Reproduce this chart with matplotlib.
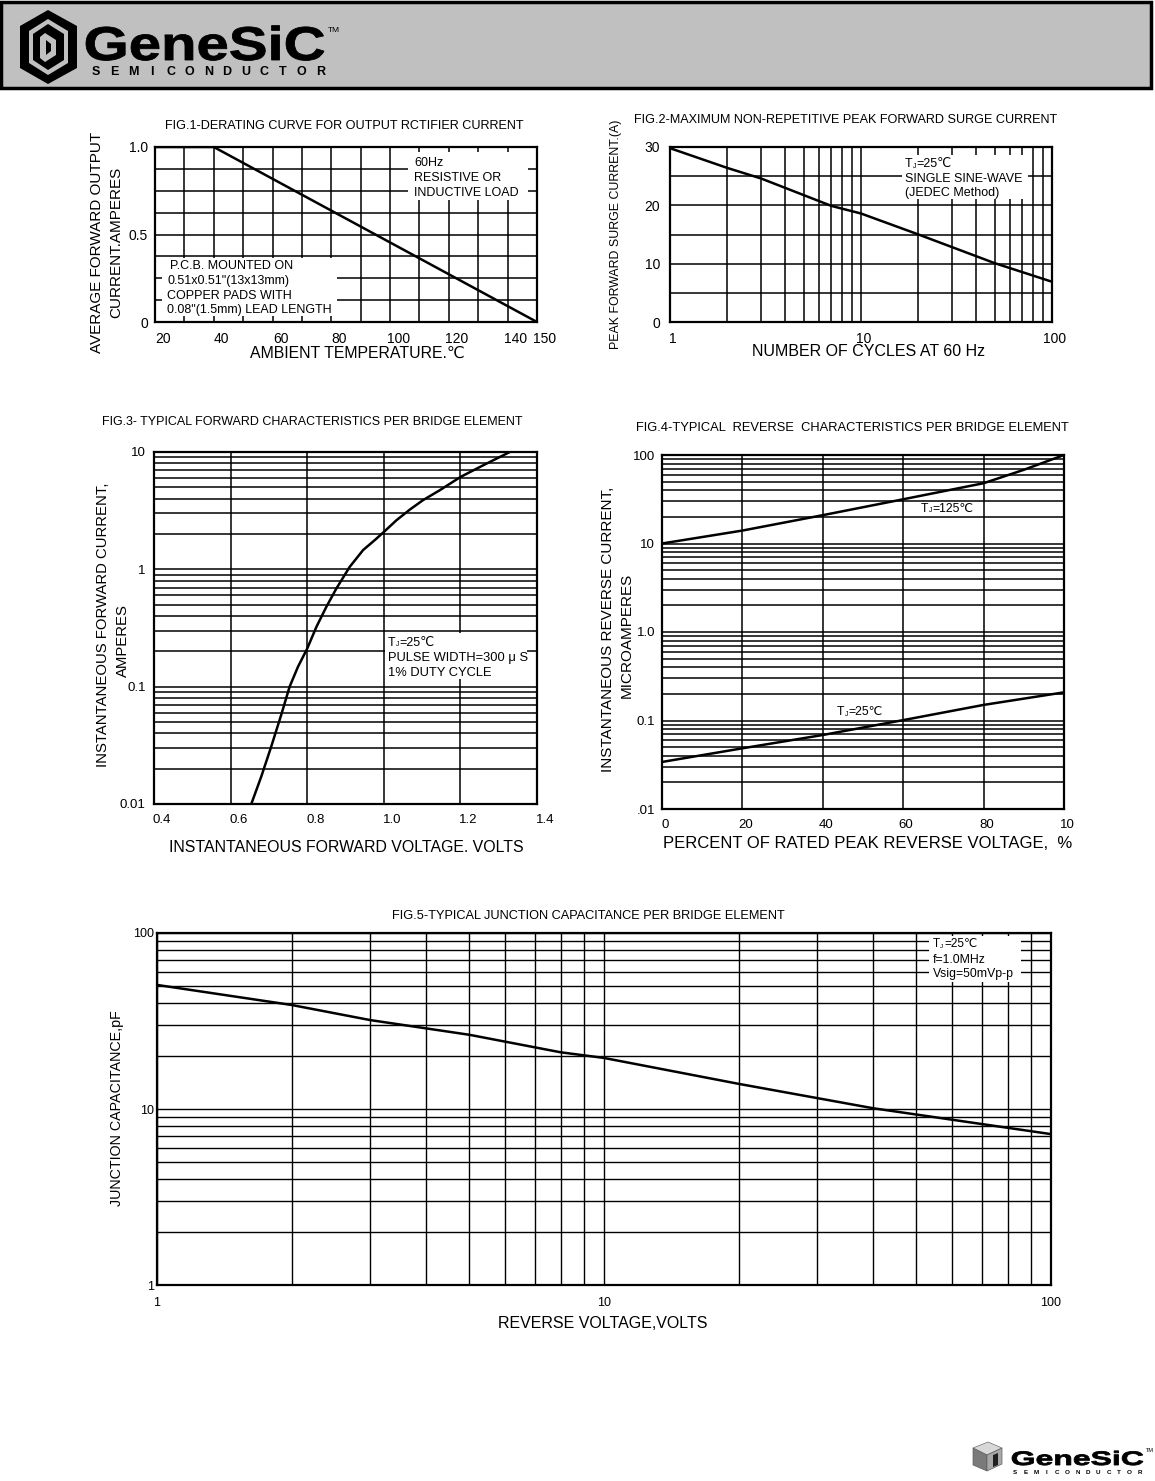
import matplotlib
matplotlib.use('Agg')
import matplotlib.pyplot as plt
from matplotlib.patches import Rectangle, Polygon, PathPatch
from matplotlib.ticker import MultipleLocator, LogLocator, NullFormatter
from matplotlib.transforms import ScaledTranslation, Affine2D, IdentityTransform
from matplotlib.textpath import TextPath
from matplotlib.font_manager import FontProperties

W, H = 1155, 1481
plt.rcParams['font.family'] = ['Liberation Sans', 'DejaVu Sans']

# fig.1 derating curve
fig1_temp = [20, 40, 150]
fig1_current = [1.0, 1.0, 0.0]
fig1_xticks = [20, 40, 60, 80, 100, 120, 140, 150]
fig1_yticks = [0, 0.5, 1.0]
fig1_ylabels = ['0', '0.5', '1.0']

# fig.2 surge current
fig2_cycles = [1, 2, 3, 7, 10, 20, 50, 100]
fig2_surge = [29.8, 26.4, 24.6, 19.9, 18.6, 15.0, 10.1, 6.9]

# fig.3 forward characteristics
fig3_vf = [0.654, 0.680, 0.706, 0.732, 0.754, 0.776, 0.800, 0.824, 0.850, 0.876, 0.911,
           0.946, 0.976, 1.0, 1.033, 1.068, 1.102, 1.146, 1.2, 1.259, 1.329]
fig3_if = [0.010, 0.0171, 0.0308, 0.0573, 0.0998, 0.148, 0.211, 0.323, 0.479, 0.685, 1.05,
           1.46, 1.77, 2.08, 2.62, 3.23, 3.88, 4.72, 6.12, 7.69, 10.0]
fig3_xticks = [0.4, 0.6, 0.8, 1.0, 1.2, 1.4]

# fig.4 reverse characteristics
fig4_pct = [0, 20, 40, 60, 80, 90, 100]
fig4_i125 = [10, 14, 20.9, 31.6, 48, 68, 100]
fig4_pct25 = [0, 20, 40, 60, 80, 100]
fig4_i25 = [0.034, 0.0485, 0.0686, 0.101, 0.15, 0.208]
fig4_xlabels = ['0', '20', '40', '60', '80', '10']
fig4_ylabels = ['.01', '0.1', '1.0', '10', '100']

# fig.5 junction capacitance
fig5_v = [1, 2, 3, 5, 8, 10, 20, 40, 100]
fig5_c = [50.7, 39, 32, 26.4, 21, 19.5, 13.9, 10.1, 7.2]

fig = plt.figure(figsize=(W / 100, H / 100), dpi=100)


def px_axes(l, t, r, b):
    return fig.add_axes([l / W, 1 - b / H, (r - l) / W, (b - t) / H])


def ftext(x, y, s, **kw):
    kw.setdefault('va', 'center')
    kw.setdefault('ha', 'left')
    return fig.text(x / W, 1 - y / H, s, **kw)


def style(ax, lw=1.1, size=10):
    for sp in ax.spines.values():
        sp.set_linewidth(1.6)
    ax.tick_params(which='both', length=0, labelsize=size)
    ax.grid(which='both', color='black', lw=lw)
    ax.set_axisbelow(True)


def shift_xlabels(ax, dx):
    for lab in ax.get_xticklabels():
        lab.set_transform(lab.get_transform() + ScaledTranslation(dx / 100, 0, fig.dpi_scale_trans))


def mask(ax, l, t, r, b):
    ax.add_patch(Rectangle((l / W, 1 - b / H), (r - l) / W, (b - t) / H, transform=fig.transFigure,
                           fc='white', ec='none', zorder=2))


def tj(x, y, rest, size, **kw):
    em = size * 100 / 72
    ftext(x, y, 'T', fontsize=size, **kw)
    ftext(x + 0.611 * em, y + 2, 'J', fontsize=size * 0.55, **kw)
    ftext(x + 0.611 * em + 0.5 * em * 0.55 + 0.5, y, rest, fontsize=size, **kw)


def wide_text(x, y, s, cap, width, color='black'):
    prop = FontProperties(family='Liberation Sans', weight='bold')
    tp = TextPath((0, 0), s, size=1, prop=prop)
    ext = tp.get_extents()
    sx = width / ext.width
    sy = cap / 0.716
    tr = Affine2D().translate(-ext.x0, 0).scale(sx, sy).translate(x, H - y)
    fig.add_artist(PathPatch(tr.transform_path(tp), fc=color, ec=color, lw=0.6,
                             transform=IdentityTransform()))


def px_poly(pts, **kw):
    fig.add_artist(Polygon([(x / W, 1 - y / H) for x, y in pts], closed=True,
                           transform=fig.transFigure, **kw))


# header
fig.add_artist(Rectangle((1 / W, 1 - 88 / H), 1150 / W, 86 / H, transform=fig.transFigure,
                         fc='#c0c0c0', ec='black', lw=2.5))
px_poly([(48, 10), (77, 26), (77, 68), (48, 84), (20, 68), (20, 26)], fc='black', ec='none')
px_poly([(48, 19), (68, 31), (68, 63), (48, 75), (29, 63), (29, 31)], fc='#c0c0c0', ec='none')
px_poly([(48, 24), (64, 34), (64, 60), (48, 70), (33, 60), (33, 34)], fc='black', ec='none')
px_poly([(45, 33), (56, 40), (56, 55), (45, 62), (40, 58), (40, 37)], fc='#c0c0c0', ec='none')
px_poly([(46, 40), (51, 44), (51, 51), (46, 55)], fc='black', ec='none')
wide_text(86, 60, 'GeneSiC', 34, 238)
ftext(328, 31, 'TM', fontsize=6)
for i, ch in enumerate('SEMICONDUCTOR'):
    ftext(96 + i * 18.7, 72, ch, fontsize=9, fontweight='bold', ha='center')

# fig.1
ax1 = px_axes(155, 147, 537, 322)
ax1.plot(fig1_temp, fig1_current, color='black', lw=1.8, zorder=4)
ax1.set_xlim(20, 150)
ax1.set_ylim(0, 1)
ax1.set_xticks(fig1_xticks, [str(t) for t in fig1_xticks])
ax1.xaxis.set_minor_locator(MultipleLocator(10))
ax1.set_yticks(fig1_yticks, fig1_ylabels)
ax1.yaxis.set_minor_locator(MultipleLocator(0.125))
style(ax1)
ax1.tick_params(axis='x', pad=7)
ax1.tick_params(axis='y', pad=5)
shift_xlabels(ax1, 8)
mask(ax1, 408, 152, 528, 200)
for yy, s in zip([162, 177, 192], ['60Hz', 'RESISTIVE OR', 'INDUCTIVE LOAD']):
    ftext(414, yy + 1, s, fontsize=9)
mask(ax1, 162, 258, 337, 316)
for xx, yy, s in zip([170, 167, 167, 167], [265, 280, 295, 309],
                     ['P.C.B. MOUNTED ON', '0.51x0.51"(13x13mm)', 'COPPER PADS WITH', '0.08"(1.5mm) LEAD LENGTH']):
    ftext(xx, yy + 1, s, fontsize=9)
ftext(344, 126, 'FIG.1-DERATING CURVE FOR OUTPUT RCTIFIER CURRENT', fontsize=9.1, ha='center')
ftext(97, 242, 'AVERAGE FORWARD OUTPUT', fontsize=11, rotation=90, ha='center')
ftext(116, 242, 'CURRENT.AMPERES', fontsize=11, rotation=90, ha='center')
ftext(357, 353, 'AMBIENT TEMPERATURE.℃', fontsize=11.4, ha='center')

# fig.2
ax2 = px_axes(670, 147, 1052, 322)
ax2.plot(fig2_cycles, fig2_surge, color='black', lw=1.8, zorder=4)
ax2.set_xscale('log')
ax2.set_xlim(1, 100)
ax2.set_ylim(0, 30)
ax2.set_xticks([1, 10, 100], ['1', '10', '100'])
ax2.xaxis.set_minor_locator(LogLocator(base=10, subs=range(2, 10)))
ax2.xaxis.set_minor_formatter(NullFormatter())
ax2.set_yticks([0, 10, 20, 30], ['0', '10', '20', '30'])
ax2.yaxis.set_minor_locator(MultipleLocator(5))
style(ax2)
ax2.tick_params(axis='x', pad=7)
ax2.tick_params(axis='y', pad=7)
shift_xlabels(ax2, 3)
mask(ax2, 902, 155, 1028, 199)
tj(905, 164, '=25℃', 9)
ftext(905, 179, 'SINGLE SINE-WAVE', fontsize=9)
ftext(905, 193, '(JEDEC Method)', fontsize=9)
ftext(846, 120, 'FIG.2-MAXIMUM NON-REPETITIVE PEAK FORWARD SURGE CURRENT', fontsize=9.1, ha='center')
ftext(616, 234, 'PEAK FORWARD SURGE CURRENT.(A)', fontsize=8.9, rotation=90, ha='center')
ftext(869, 352, 'NUMBER OF CYCLES AT 60 Hz', fontsize=11.5, ha='center')

# fig.3
ax3 = px_axes(154, 452, 537, 804)
ax3.plot(fig3_vf, fig3_if, color='black', lw=1.8, zorder=4)
ax3.set_yscale('log')
ax3.set_xlim(0.4, 1.4)
ax3.set_ylim(0.01, 10)
ax3.set_xticks(fig3_xticks, ['0.4', '0.6', '0.8', '1.0', '1.2', '1.4'])
ax3.set_yticks([0.01, 0.1, 1, 10], ['0.01', '0.1', '1', '10'])
ax3.yaxis.set_minor_locator(LogLocator(base=10, subs=range(2, 10)))
ax3.yaxis.set_minor_formatter(NullFormatter())
style(ax3, size=9.5)
ax3.tick_params(axis='x', pad=7)
ax3.tick_params(axis='y', pad=6)
shift_xlabels(ax3, 8)
mask(ax3, 385, 633, 527, 679)
tj(388, 643, '=25℃', 9)
ftext(388, 658, 'PULSE WIDTH=300 μ S', fontsize=9.3)
ftext(388, 673, '1% DUTY CYCLE', fontsize=9.3)
ftext(312, 422, 'FIG.3- TYPICAL FORWARD CHARACTERISTICS PER BRIDGE ELEMENT', fontsize=9, ha='center')
ftext(103, 625, 'INSTANTANEOUS FORWARD CURRENT,', fontsize=10.7, rotation=90, ha='center')
ftext(123, 641, 'AMPERES', fontsize=10.7, rotation=90, ha='center')
ftext(346, 847, 'INSTANTANEOUS FORWARD VOLTAGE. VOLTS', fontsize=11.4, ha='center')

# fig.4
ax4 = px_axes(662, 455, 1064, 809)
ax4.plot(fig4_pct, fig4_i125, color='black', lw=1.8, zorder=4)
ax4.plot(fig4_pct25, fig4_i25, color='black', lw=1.8, zorder=4)
ax4.set_yscale('log')
ax4.set_xlim(0, 100)
ax4.set_ylim(0.01, 100)
ax4.set_xticks([0, 20, 40, 60, 80, 100], fig4_xlabels)
ax4.set_yticks([0.01, 0.1, 1, 10, 100], fig4_ylabels)
ax4.yaxis.set_minor_locator(LogLocator(base=10, subs=range(2, 10)))
ax4.yaxis.set_minor_formatter(NullFormatter())
style(ax4, size=9.5)
ax4.tick_params(axis='x', pad=7)
ax4.tick_params(axis='y', pad=5)
shift_xlabels(ax4, 3)
tj(921, 509, '=125℃', 8.8)
tj(837, 712, '=25℃', 8.8)
ftext(852, 428, 'FIG.4-TYPICAL  REVERSE  CHARACTERISTICS PER BRIDGE ELEMENT', fontsize=9.3, ha='center')
ftext(608, 629, 'INSTANTANEOUS REVERSE CURRENT,', fontsize=11, rotation=90, ha='center')
ftext(627, 635, 'MICROAMPERES', fontsize=11, rotation=90, ha='center')
ftext(868, 844, 'PERCENT OF RATED PEAK REVERSE VOLTAGE,  %', fontsize=12, ha='center')

# fig.5
narrow = ['Liberation Sans Narrow', 'Liberation Sans', 'DejaVu Sans']
ax5 = px_axes(157, 933, 1051, 1285)
ax5.plot(fig5_v, fig5_c, color='black', lw=1.8, zorder=4)
ax5.set_xscale('log')
ax5.set_yscale('log')
ax5.set_xlim(1, 100)
ax5.set_ylim(1, 100)
ax5.set_xticks([1, 10, 100], ['1', '10', '100'])
ax5.set_yticks([1, 10, 100], ['1', '10', '100'])
for a in (ax5.xaxis, ax5.yaxis):
    a.set_minor_locator(LogLocator(base=10, subs=range(2, 10)))
    a.set_minor_formatter(NullFormatter())
style(ax5, lw=1.0, size=9)
for lab in ax5.get_xticklabels() + ax5.get_yticklabels():
    lab.set_family(narrow)
ax5.tick_params(axis='x', pad=9)
ax5.tick_params(axis='y', pad=2)
mask(ax5, 929, 936, 1021, 982)
tj(933, 944, '=25℃', 8.5, family=narrow)
ftext(933, 960, 'f=1.0MHz', fontsize=8.8, family=narrow)
ftext(933, 974, 'Vsig=50mVp-p', fontsize=8.8, family=narrow)
ftext(588, 916, 'FIG.5-TYPICAL JUNCTION CAPACITANCE PER BRIDGE ELEMENT', fontsize=9.2, family=narrow,
      ha='center')
ftext(117, 1108, 'JUNCTION CAPACITANCE,pF', fontsize=10.3, rotation=90, ha='center')
ftext(603, 1323, 'REVERSE VOLTAGE,VOLTS', fontsize=11.5, family=narrow, ha='center')

# footer logo
px_poly([(973, 1448), (988, 1442), (1002, 1448), (987, 1455)], fc='#d8d8d8', ec='#707070', lw=0.5)
px_poly([(973, 1448), (987, 1455), (987, 1471), (973, 1465)], fc='#7a7a7a', ec='#606060', lw=0.5)
px_poly([(987, 1455), (1002, 1448), (1002, 1464), (987, 1471)], fc='#a8a8a8', ec='#606060', lw=0.5)
px_poly([(993, 1455), (998, 1453), (998, 1465), (993, 1467)], fc='#202020', ec='none')
wide_text(1012, 1465, 'GeneSiC', 14, 131)
ftext(1146, 1451, 'TM', fontsize=4)
for i, ch in enumerate('SEMICONDUCTOR'):
    ftext(1015 + i * 10.4, 1472, ch, fontsize=4.5, fontweight='bold', ha='center')

fig.savefig('out.png', dpi=100, facecolor='white')
